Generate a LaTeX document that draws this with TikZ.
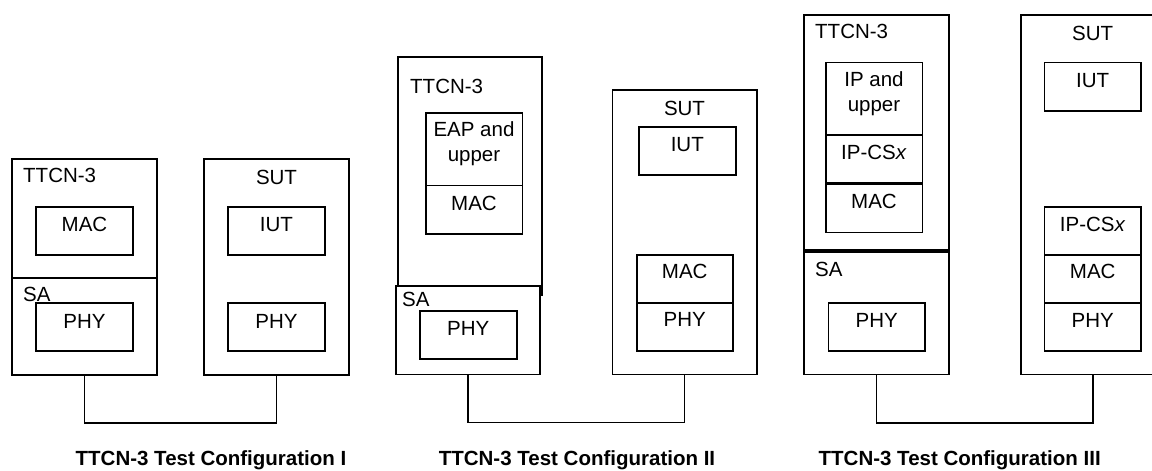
\documentclass[tikz,border=0pt]{standalone}
\usepackage{fontspec}
\setmainfont{Liberation Sans}
\usetikzlibrary{fit}
\begin{document}
\begin{tikzpicture}[x=1pt,y=-1pt,
  box/.style={draw=black, line width=1.6pt, inner sep=0pt, fill=white},
  lbl/.style={inner sep=0pt, font=\fontsize{20.5}{25}\selectfont, align=center},
  ttl/.style={inner sep=0pt, font=\fontsize{20.5}{25}\selectfont\bfseries},
  wire/.style={draw=black, line width=1.6pt}]
\useasboundingbox (0,0) rectangle (1152,471);
% ---------- Configuration I ----------
\node[box, fit={(12,159) (157,278)}] (t1) {};
\node[box, fit={(12,278) (157,375)}] (sa1) {};
\node[box, fit={(36,207) (133,255)}] (mac1) {};
\node[box, fit={(36,303) (133,351)}] (phy1) {};
\node[box, fit={(204,159) (349,375)}] (sut1) {};
\node[box, fit={(228,207) (325,255)}] (iut1) {};
\node[box, fit={(228,303) (325,351)}] (sphy1) {};
\node[lbl, anchor=base west] (t1l) at (23,182.5) {TTCN-3};
\node[lbl, anchor=base] (mac1l) at (84.5,231.5) {MAC};
\node[lbl, anchor=base west] (sa1l) at (23,301.5) {SA};
\node[lbl, anchor=base] (phy1l) at (84.5,328.3) {PHY};
\node[lbl, anchor=base] (sut1l) at (276.5,184) {SUT};
\node[lbl, anchor=base] (iut1l) at (276.5,231.7) {IUT};
\node[lbl, anchor=base] (sphy1l) at (276.5,328.3) {PHY};
\coordinate (c1) at (180,422.7);
\draw[wire] (sa1.south) |- (c1) -| (sut1.south);
\node[ttl, anchor=base] (title1) at (211,465.5) {TTCN-3 Test Configuration I};
% ---------- Configuration II ----------
\node[box, fit={(398,57) (542,295)}] (t2) {};
\node[box, fit={(396,286) (540,374.3)}] (sa2) {};
\node[box, fit={(425.7,112.7) (522.3,185.3)}] (eap2) {};
\node[box, fit={(425.7,185.3) (522.3,233.7)}] (mac2) {};
\node[box, fit={(420,310.7) (516.7,359)}] (phy2) {};
\node[box, fit={(612.3,90) (756.7,374.3)}] (sut2) {};
\node[box, fit={(639,127) (735.7,174.7)}] (iut2) {};
\node[box, fit={(636.7,255) (732.7,302.7)}] (smac2) {};
\node[box, fit={(636.7,302.7) (732.7,350.7)}] (sphy2) {};
\node[lbl, anchor=base west] (t2l) at (410,93.3) {TTCN-3};
\node[lbl, anchor=base] (eap2l) at (474,161.7) {EAP and\\upper};
\node[lbl, anchor=base] (mac2l) at (474,210) {MAC};
\node[lbl, anchor=base west] (sa2l) at (402,306.7) {SA};
\node[lbl, anchor=base] (phy2l) at (468.3,335) {PHY};
\node[lbl, anchor=base] (sut2l) at (684.5,115) {SUT};
\node[lbl, anchor=base] (iut2l) at (687.3,151) {IUT};
\node[lbl, anchor=base] (smac2l) at (684.7,278.3) {MAC};
\node[lbl, anchor=base] (sphy2l) at (684.7,326.7) {PHY};
\coordinate (c2) at (576,422.3);
\draw[wire] (sa2.south) |- (c2) -| (sut2.south);
\node[ttl, anchor=base] (title2) at (577,465.5) {TTCN-3 Test Configuration II};
% ---------- Configuration III ----------
\node[box, fit={(804,14.7) (948.7,250)}] (t3) {};
\node[box, fit={(804,252) (948.7,374.3)}] (sa3) {};
\node[box, fit={(825.7,62.3) (922.3,134.7)}] (ip3) {};
\node[box, fit={(825.7,134.7) (922.3,182.7)}] (cs3) {};
\node[box, fit={(825.7,184.3) (922.3,232.3)}] (mac3) {};
\node[box, fit={(828.3,302.7) (925,350.7)}] (phy3) {};
\node[box, fit={(1020.7,14.7) (1164.7,374.3)}] (sut3) {};
\node[box, fit={(1044.3,62.3) (1141,110.7)}] (iut3) {};
\node[box, fit={(1044.3,206.7) (1141,255)}] (scs3) {};
\node[box, fit={(1044.3,255) (1141,302.7)}] (smac3) {};
\node[box, fit={(1044.3,302.7) (1141,350.7)}] (sphy3) {};
\node[lbl, anchor=base west] (t3l) at (815,38.3) {TTCN-3};
\node[lbl, anchor=base] (ip3l) at (874,111.7) {IP and\\upper};
\node[lbl, anchor=base] (cs3l) at (874,159.3) {IP-CS\textit{x}};
\node[lbl, anchor=base] (mac3l) at (874,208.7) {MAC};
\node[lbl, anchor=base west] (sa3l) at (815,276) {SA};
\node[lbl, anchor=base] (phy3l) at (876.7,327.3) {PHY};
\node[lbl, anchor=base] (sut3l) at (1092.7,40) {SUT};
\node[lbl, anchor=base] (iut3l) at (1092.7,87.3) {IUT};
\node[lbl, anchor=base] (scs3l) at (1092.7,231.3) {IP-CS\textit{x}};
\node[lbl, anchor=base] (smac3l) at (1092.7,278.3) {MAC};
\node[lbl, anchor=base] (sphy3l) at (1092.7,327.3) {PHY};
\coordinate (c3) at (985,422.7);
\draw[wire] (sa3.south) |- (c3) -| (sut3.south);
\node[ttl, anchor=base] (title3) at (959.7,465.5) {TTCN-3 Test Configuration III};
\end{tikzpicture}
\end{document}
